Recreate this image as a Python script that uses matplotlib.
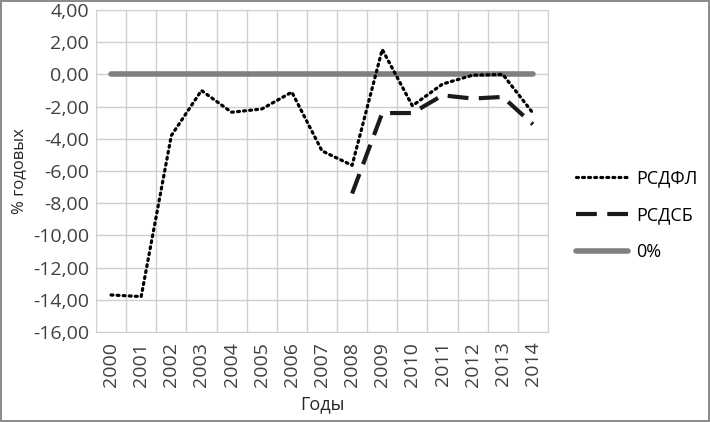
import numpy as np
import matplotlib.pyplot as plt

# data
years = ['2000', '2001', '2002', '2003', '2004', '2005', '2006', '2007',
         '2008', '2009', '2010', '2011', '2012', '2013', '2014']
rsdfl = [-13.7, -13.8, -3.8, -1.0, -2.35, -2.15, -1.1, -4.75,
         -5.65, 1.55, -1.95, -0.6, -0.05, 0.0, -2.4]
rsdsb = [np.nan] * 8 + [-7.4, -2.4, -2.4, -1.3, -1.5, -1.4, -3.1]
zero = [0.0] * 15
yticks = [4, 2, 0, -2, -4, -6, -8, -10, -12, -14, -16]

plt.rcParams['font.family'] = ['Open Sans', 'DejaVu Sans']

fig = plt.figure(figsize=(7.1, 4.22), dpi=100)
fig.patch.set_edgecolor('#8c8c8c')
fig.patch.set_linewidth(1.5)
ax = fig.add_axes([0.1352, 0.2133, 0.6366, 0.763])

x = np.arange(len(years))
ax.plot(x, zero, color='#7f7f7f', lw=4, solid_capstyle='round', label='0%', zorder=2)
ax.plot(x, rsdfl, color='black', lw=2.3, linestyle=(0, (0.6, 1.3)),
        dash_capstyle='round', label='РСДФЛ', zorder=3)
ax.plot(x, rsdsb, color='#1a1a1a', lw=3, linestyle=(0, (5, 2.5)),
        label='РСДСБ', zorder=3)

ax.set_xlim(-0.5, len(years) - 0.5)
ax.set_ylim(-16, 4)
ax.set_xticks(x)
ax.set_xticklabels(years, rotation=90, fontsize=14)
ax.set_xticks(np.arange(-0.5, len(years)), minor=True)
ax.set_yticks(yticks)
ax.set_yticklabels(['{:.2f}'.format(v).replace('.', ',') for v in yticks], fontsize=14)
ax.tick_params(axis='both', which='both', length=0, colors='#404040')
ax.tick_params(axis='x', pad=7)
ax.tick_params(axis='y', pad=5)
ax.grid(True, axis='y', which='major', color='#d0d0d0', lw=1)
ax.grid(True, axis='x', which='minor', color='#d0d0d0', lw=1)
for s in ax.spines.values():
    s.set_color('#d0d0d0')
ax.set_axisbelow(True)

ax.set_xlabel('Годы', fontsize=13, color='#262626', labelpad=6)
ax.set_ylabel('% годовых', fontsize=12, color='#262626', labelpad=4)

h, l = ax.get_legend_handles_labels()
order = [1, 2, 0]
fig.legend([h[i] for i in order], [l[i] for i in order],
           loc='center left', bbox_to_anchor=(576 / 710, 1 - 215 / 422), frameon=False,
           fontsize=13, handlelength=2.9, labelspacing=1.05, handletextpad=0.45,
           borderpad=0, borderaxespad=0)

fig.savefig('out.png', dpi=100)
